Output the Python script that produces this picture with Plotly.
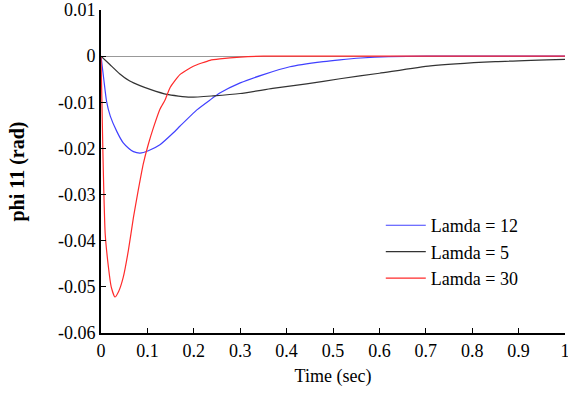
import plotly.graph_objects as go

# Lamda = 12 (blue)
t_12 = [0, 0.006, 0.012, 0.02, 0.034, 0.048, 0.06, 0.07, 0.084, 0.102, 0.127, 0.156, 0.17, 0.206, 0.235, 0.256, 0.30, 0.35, 0.407, 0.479, 0.515, 0.56, 0.62, 0.7, 0.8, 0.9, 1.0]
v_12 = [0, -0.0050, -0.0098, -0.0130, -0.0163, -0.0188, -0.0200, -0.0207, -0.0210, -0.0205, -0.0192, -0.0166, -0.0152, -0.0117, -0.0095, -0.0080, -0.0058, -0.0040, -0.0023, -0.0012, -0.0008, -0.0004, -0.0001, 0, 0, 0, 0]

# Lamda = 5 (black)
t_5 = [0, 0.019, 0.04, 0.062, 0.084, 0.106, 0.142, 0.192, 0.242, 0.3, 0.37, 0.443, 0.515, 0.6, 0.71, 0.85, 1.0]
v_5 = [0, -0.0018, -0.0038, -0.0054, -0.0064, -0.0072, -0.0083, -0.0089, -0.0086, -0.0081, -0.0070, -0.0060, -0.0049, -0.0037, -0.0021, -0.0012, -0.0007]

# Lamda = 30 (red)
t_30 = [0, 0.002, 0.004, 0.006, 0.009, 0.016, 0.022, 0.030, 0.038, 0.048, 0.059, 0.070, 0.080, 0.091, 0.102, 0.113, 0.127, 0.138, 0.149, 0.170, 0.199, 0.235, 0.256, 0.30, 0.35, 0.5, 0.7, 1.0]
v_30 = [0, -0.010, -0.0205, -0.0290, -0.0385, -0.0457, -0.0500, -0.0522, -0.0510, -0.0479, -0.0421, -0.0349, -0.0292, -0.0234, -0.0191, -0.0155, -0.0115, -0.0095, -0.0068, -0.0040, -0.0022, -0.0009, -0.0006, -0.0002, 0, 0, 0, 0]

x_ticks = [0, 0.1, 0.2, 0.3, 0.4, 0.5, 0.6, 0.7, 0.8, 0.9, 1]
x_labels = ["0", "0.1", "0.2", "0.3", "0.4", "0.5", "0.6", "0.7", "0.8", "0.9", "1"]
y_ticks = [0.01, 0, -0.01, -0.02, -0.03, -0.04, -0.05, -0.06]
y_labels = ["0.01", "0", "-0.01", "-0.02", "-0.03", "-0.04", "-0.05", "-0.06"]

serif = "Liberation Serif"

fig = go.Figure()
fig.add_trace(go.Scatter(x=t_12, y=v_12, mode="lines", name="Lamda = 12",
                         line=dict(color="#4040ff", width=1.2, shape="spline", smoothing=0.5)))
fig.add_trace(go.Scatter(x=t_5, y=v_5, mode="lines", name="Lamda = 5",
                         line=dict(color="#333333", width=1.2, shape="spline", smoothing=0.5)))
fig.add_trace(go.Scatter(x=t_30, y=v_30, mode="lines", name="Lamda = 30",
                         line=dict(color="#ff2a2a", width=1.2, shape="spline", smoothing=0.5)))

fig.update_layout(
    width=568, height=393,
    margin=dict(l=101, r=3, t=10, b=60),
    paper_bgcolor="white", plot_bgcolor="white",
    font=dict(family=serif, size=18, color="black"),
    showlegend=True,
    legend=dict(x=0.603, y=0.39, xanchor="left", yanchor="top",
                bgcolor="rgba(0,0,0,0)", font=dict(family=serif, size=18),
                tracegroupgap=0, itemwidth=40),
)
fig.update_xaxes(range=[0, 1], tickvals=x_ticks, ticktext=x_labels,
                 showline=True, linecolor="black", linewidth=2,
                 ticks="inside", ticklen=5, tickcolor="black", tickwidth=1,
                 showgrid=False, zeroline=False, ticklabeloverflow="allow", automargin=False,
                 title=dict(text="Time (sec)", font=dict(family=serif, size=18), standoff=10),
                 tickfont=dict(family=serif, size=18))
fig.update_yaxes(range=[-0.06, 0.01], tickvals=y_ticks, ticktext=y_labels,
                 showline=True, linecolor="black", linewidth=2,
                 ticks="inside", ticklen=5, tickcolor="black", tickwidth=1,
                 showgrid=False, zeroline=True, zerolinecolor="#999999", zerolinewidth=1,
                 ticklabeloverflow="allow", automargin=False,
                 title=dict(text="<b>phi 11 (rad)</b>", font=dict(family=serif, size=20), standoff=28),
                 tickfont=dict(family=serif, size=18))

fig.write_html("out.html", config={"displayModeBar": False},
               post_script="document.body.style.margin='0';document.body.style.padding='0';")
